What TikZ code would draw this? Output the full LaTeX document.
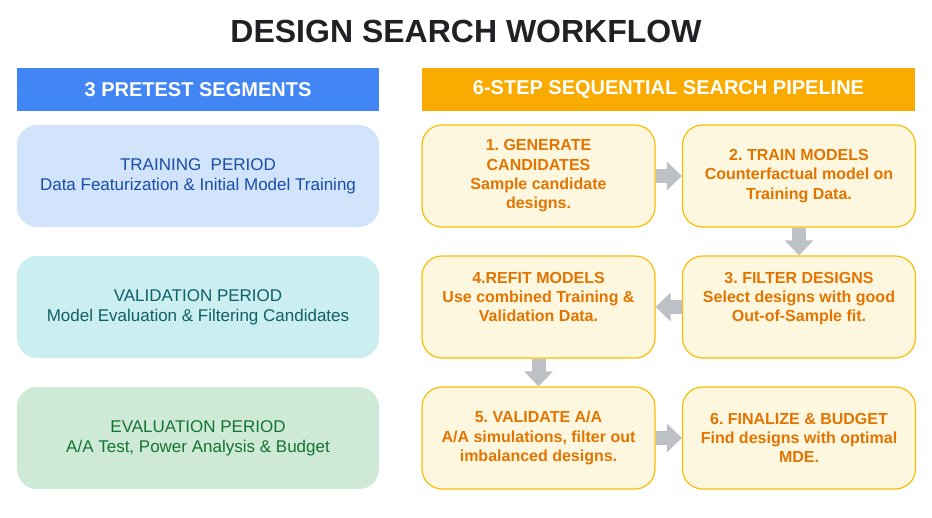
\documentclass[tikz,border=0pt]{standalone}
\usepackage{fontspec}
\setmainfont{Liberation Sans}
\frenchspacing
\usepackage{tikz}
\usepackage{xcolor}
\usetikzlibrary {arrows.meta,positioning}
\definecolor{TitleText}{HTML}{202124}
\definecolor{SegmentHeaderBackground}{HTML}{4285F4}
\definecolor{PipelineHeaderBackground}{HTML}{F9AB00}
\definecolor{TrainingBackground}{HTML}{D2E3FC}
\definecolor{TrainingText}{HTML}{174EA6}
\definecolor{ValidationBackground}{HTML}{CBEEF0}
\definecolor{ValidationText}{HTML}{0D6066}
\definecolor{EvaluationBackground}{HTML}{CEEAD6}
\definecolor{EvaluationText}{HTML}{137333}
\definecolor{ProcessStepBackground}{HTML}{FEF7E0}
\definecolor{ProcessStepBorder}{HTML}{FBBC04}
\definecolor{ProcessStepText}{HTML}{E37400}
\definecolor{StepArrowColor}{HTML}{BDC1C6}
\tikzstyle{TitleNode} =[text=TitleText,font=\fontsize{32}{38}\selectfont\bfseries]
\tikzstyle{HeaderNode} =[text=white,minimum height=43pt,inner sep=0pt,font=\fontsize{20}{24}\selectfont\bfseries]
\tikzstyle{SegmentNode} =[rounded corners=20pt,minimum width=362pt,minimum height=102pt,inner sep=0pt,align=center,font=\fontsize{17}{20}\selectfont]
\tikzstyle{ProcessStepNode} =[draw=ProcessStepBorder,line width=1.2pt,fill=ProcessStepBackground,text=ProcessStepText,rounded corners=20pt,minimum width=233pt,minimum height=102pt,inner sep=0pt,align=center,font=\fontsize{16}{19.3}\selectfont\bfseries]
\tikzstyle{RaisedText} =[text depth=20pt]
\tikzstyle{StepArrow} =[draw=StepArrowColor,line width=14pt,-{Triangle[width=28pt,length=15pt]}]

\begin{document}
\begin{tikzpicture}[x=1pt,y=1pt,node distance=131pt and 260.5pt,on grid]
    \useasboundingbox (0,0) rectangle (932,-517);
    \node[TitleNode] (Design-Search-Title) at (466,-31) {DESIGN SEARCH WORKFLOW};

    % headers
    \node[HeaderNode,fill=SegmentHeaderBackground,minimum width=362pt] (Pretest-Segments-Header) at (198,-89.5) {3 PRETEST SEGMENTS};
    \node[HeaderNode,fill=PipelineHeaderBackground,minimum width=493pt] (Search-Pipeline-Header) at (668.5,-89.5) {6-STEP SEQUENTIAL SEARCH PIPELINE};

    % pretest segments
    \node[SegmentNode,fill=TrainingBackground,text=TrainingText] (Training-Period) at (198,-176) {TRAINING~ PERIOD\\Data Featurization \& Initial Model Training};
    \node[SegmentNode,fill=ValidationBackground,text=ValidationText,below= of Training-Period] (Validation-Period) {VALIDATION PERIOD\\Model Evaluation \& Filtering Candidates};
    \node[SegmentNode,fill=EvaluationBackground,text=EvaluationText,below= of Validation-Period] (Evaluation-Period) {EVALUATION PERIOD\\A/A Test, Power Analysis \& Budget};

    % search pipeline
    \node[ProcessStepNode] (Generate-Candidates) at (538.5,-176) {1. GENERATE\\CANDIDATES\\Sample candidate\\designs.};
    \node[ProcessStepNode,right= of Generate-Candidates] (Train-Models) {2. TRAIN MODELS\\Counterfactual model on\\Training Data.};
    \node[ProcessStepNode,RaisedText,below= of Train-Models] (Filter-Designs) {3. FILTER DESIGNS\\Select designs with good\\Out-of-Sample fit.};
    \node[ProcessStepNode,RaisedText,below= of Generate-Candidates] (Refit-Models) {4.REFIT MODELS\\Use combined Training \&\\Validation Data.};
    \node[ProcessStepNode,below= of Refit-Models] (Validate-AA) {5. VALIDATE A/A\\A/A simulations, filter out\\imbalanced designs.};
    \node[ProcessStepNode,right= of Validate-AA] (Finalize-Budget) {6. FINALIZE \& BUDGET\\Find designs with optimal\\MDE.};

    \draw[StepArrow] (Generate-Candidates) -- (Train-Models);
    \draw[StepArrow] (Train-Models) -- (Filter-Designs);
    \draw[StepArrow] (Filter-Designs) -- (Refit-Models);
    \draw[StepArrow] (Refit-Models) -- (Validate-AA);
    \draw[StepArrow] (Validate-AA) -- (Finalize-Budget);
\end{tikzpicture}
\end{document}
